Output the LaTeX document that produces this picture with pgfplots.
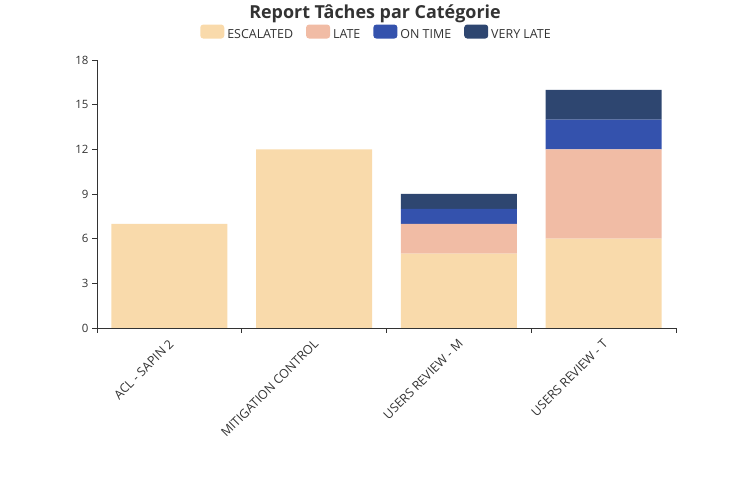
\documentclass[border=0pt]{standalone}
\usepackage{pgfplots}
\pgfplotsset{compat=1.18}
\usepackage{fontspec}
\setmainfont{Open Sans}
\definecolor{esc}{HTML}{F9DAAB}
\definecolor{late}{HTML}{F1BCA5}
\definecolor{ontime}{HTML}{3452AD}
\definecolor{vlate}{HTML}{2E4670}
\definecolor{txt}{HTML}{333333}
\begin{document}
\begin{tikzpicture}[x=1bp,y=1bp]
\useasboundingbox (0,0) rectangle (750,500);
\node[font=\bfseries\fontsize{18}{21}\selectfont, text=txt] at (375,486) {Report Tâches par Catégorie};
\begin{axis}[
  at={(97bp,172bp)}, anchor=south west,
  scale only axis, width=579bp, height=268bp,
  ybar stacked, bar width=116bp,
  xmin=-0.5, xmax=3.5, ymin=0, ymax=18,
  ytick={0,3,...,18},
  xtick={-0.5,0.5,1.5,2.5,3.5},
  xticklabels={},
  extra x ticks={0,1,2,3},
  extra x tick labels={ACL - SAPIN 2, MITIGATION CONTROL, USERS REVIEW - M, USERS REVIEW - T},
  extra x tick style={major tick length=0pt,
    tick label style={rotate=45, anchor=north east, font=\fontsize{12.5}{14}\selectfont, text=txt, xshift=-5bp, yshift=-3bp}},
  y tick label style={font=\fontsize{11.5}{13}\selectfont, text=txt},
  /pgf/number format/assume math mode=true,
  axis lines*=left,
  axis line style={draw=txt, line width=0.8pt, -},
  tick align=outside,
  major tick length=5bp,
  tick style={draw=txt, line width=0.8pt},
  clip=false,
  legend style={at={(0.5,1.0)}, yshift=16bp, xshift=-10bp, anchor=south, legend columns=4, draw=none, fill=none,
    font=\fontsize{12.5}{14}\selectfont, text=txt,
    /tikz/every even column/.append style={column sep=11bp},
    /tikz/every odd column/.append style={column sep=1bp}},
  legend image code/.code={\fill[#1, rounded corners=3bp] (0bp,-4bp) rectangle (24bp,10bp);},
]
\addplot[fill=esc, draw=none] coordinates {(0,7) (1,12) (2,5) (3,6)};
\addplot[fill=late, draw=none] coordinates {(0,0) (1,0) (2,2) (3,6)};
\addplot[fill=ontime, draw=none] coordinates {(0,0) (1,0) (2,1) (3,2)};
\addplot[fill=vlate, draw=none] coordinates {(0,0) (1,0) (2,1) (3,2)};
\legend{ESCALATED, LATE, ON TIME, VERY LATE}
\end{axis}
\end{tikzpicture}
\end{document}
